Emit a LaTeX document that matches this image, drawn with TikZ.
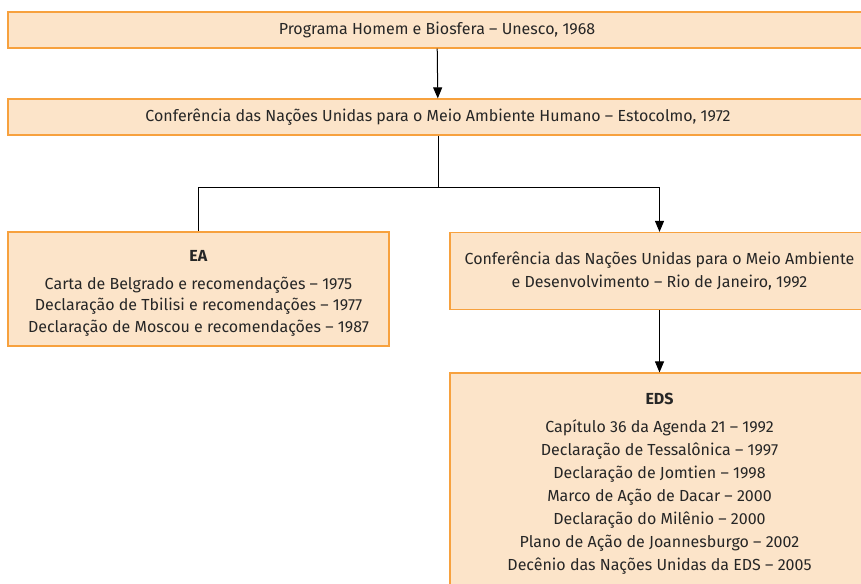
\documentclass[tikz,border=0pt]{standalone}
\usepackage{fontspec}
\setmainfont{Fira Sans}
\usetikzlibrary{arrows.meta}
\definecolor{boxfill}{HTML}{FCE4C9}
\definecolor{boxline}{HTML}{F7A13E}
\tikzset{
  caixa/.style={draw=boxline, fill=boxfill, line width=1.2pt, align=center, inner sep=0pt,
    text=black!85, font=\fontsize{16}{23}\selectfont},
  seta/.style={line width=1pt, -{Triangle[width=9pt,length=11pt]}},
  liga/.style={line width=1pt}
}

\begin{document}
\begin{tikzpicture}[x=1pt,y=-1pt]
  \useasboundingbox (0,0) rectangle (861,583);
  \clip (0,0) rectangle (861,583);
  \node[caixa, minimum width=858pt, minimum height=36pt] (mab) at (437,30)
    {Programa Homem e Biosfera -- Unesco, 1968};
  \node[caixa, minimum width=860pt, minimum height=36pt] (estocolmo) at (438,117)
    {Conferência das Nações Unidas para o Meio Ambiente Humano -- Estocolmo, 1972};
  \node[caixa, minimum width=381pt, minimum height=114pt,
    font=\fontsize{16}{21.5}\selectfont] (ea) at (198.5,289)
    {\rule{0pt}{20pt}\textbf{EA}\\[6pt]
     Carta de Belgrado e recomendações -- 1975\\
     Declaração de Tbilisi e recomendações -- 1977\\
     Declaração de Moscou e recomendações -- 1987};
  \node[caixa, minimum width=419pt, minimum height=77pt] (rio) at (659.5,271)
    {Conferência das Nações Unidas para o Meio Ambiente\\
     e Desenvolvimento -- Rio de Janeiro, 1992};
  \node[caixa, minimum width=419pt, minimum height=222pt] (eds) at (659.5,484)
    {\textbf{EDS}\\[5pt]
     Capítulo 36 da Agenda 21 -- 1992\\
     Declaração de Tessalônica -- 1997\\
     Declaração de Jomtien -- 1998\\
     Marco de Ação de Dacar -- 2000\\
     Declaração do Milênio -- 2000\\
     Plano de Ação de Joannesburgo -- 2002\\
     Decênio das Nações Unidas da EDS -- 2005};
  % ramificacao
  \coordinate (j) at (438,187);
  \draw[seta] (mab) -- (estocolmo);
  \draw[liga] (estocolmo) -- (j);
  \draw[liga] (j) -| (ea.north);
  \draw[seta] (j) -| (rio.north);
  \draw[seta] (rio) -- (eds);
\end{tikzpicture}
\end{document}
